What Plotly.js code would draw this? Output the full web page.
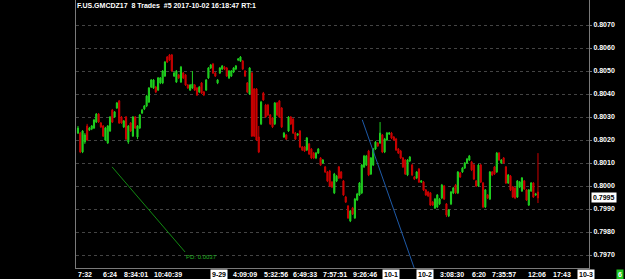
<!DOCTYPE html>
<html><head><meta charset="utf-8">
<script src="https://cdn.plot.ly/plotly-3.0.1.min.js"></script>
<style>html,body{margin:0;padding:0;background:#000;overflow:hidden}#chart{width:625px;height:279px}</style>
</head><body><div id="chart"></div>
<script>
const openP=[
0.80230,0.80230,0.80148,0.80191,0.80261,0.80243,0.80248,0.80252,0.80278,0.80313,
0.80274,0.80261,0.80200,0.80187,0.80239,0.80330,0.80300,0.80339,0.80370,0.80300,
0.80257,0.80300,0.80191,0.80274,0.80217,0.80300,0.80213,0.80252,0.80317,0.80335,
0.80348,0.80365,0.80430,0.80426,0.80430,0.80417,0.80448,0.80448,0.80478,0.80561,
0.80570,0.80570,0.80478,0.80452,0.80483,0.80452,0.80491,0.80483,0.80439,0.80417,
0.80426,0.80439,0.80426,0.80409,0.80448,0.80409,0.80417,0.80470,0.80513,0.80530,
0.80491,0.80448,0.80491,0.80509,0.80517,0.80513,0.80470,0.80478,0.80496,0.80509,
0.80548,0.80543,0.80543,0.80500,0.80448,0.80400,0.80491,0.80422,0.80422,0.80213,
0.80270,0.80404,0.80352,0.80352,0.80309,0.80296,0.80270,0.80361,0.80370,0.80339,
0.80213,0.80222,0.80239,0.80300,0.80291,0.80230,0.80222,0.80239,0.80170,0.80170,
0.80157,0.80183,0.80161,0.80143,0.80122,0.80143,0.80122,0.80100,0.80083,0.80061,
0.80065,0.80017,0.79970,0.80022,0.80083,0.80061,0.80022,0.79952,0.79913,0.79848,
0.79904,0.79861,0.79939,0.79961,0.79970,0.80083,0.80091,0.80152,0.80052,0.80091,
0.80161,0.80187,0.80187,0.80222,0.80148,0.80200,0.80226,0.80230,0.80213,0.80204,
0.80161,0.80152,0.80122,0.80113,0.80048,0.80109,0.80091,0.80039,0.80035,0.80074,
0.80017,0.80017,0.79983,0.79974,0.79970,0.79930,0.79904,0.79909,0.79922,0.79948,
0.80000,0.79922,0.79870,0.79922,0.79970,0.80004,0.79970,0.80057,0.80061,0.80078,
0.80100,0.80113,0.80104,0.80091,0.80022,0.80000,0.80091,0.80013,0.79909,0.79961,
0.79943,0.80061,0.80083,0.80061,0.80143,0.80100,0.80122,0.80083,0.80013,0.80043,
0.79996,0.79991,0.79952,0.79996,0.79978,0.80022,0.79983,0.79917,0.79978,0.80013,
0.79961,0.79974];
const closeP=[
0.80252,0.80148,0.80239,0.80222,0.80200,0.80252,0.80261,0.80287,0.80313,0.80278,
0.80257,0.80217,0.80252,0.80261,0.80300,0.80278,0.80322,0.80361,0.80274,0.80274,
0.80283,0.80204,0.80261,0.80239,0.80300,0.80252,0.80261,0.80309,0.80330,0.80348,
0.80391,0.80426,0.80461,0.80461,0.80409,0.80470,0.80470,0.80500,0.80539,0.80539,
0.80548,0.80500,0.80491,0.80500,0.80470,0.80517,0.80470,0.80439,0.80426,0.80439,
0.80443,0.80417,0.80396,0.80430,0.80404,0.80396,0.80461,0.80513,0.80526,0.80491,
0.80478,0.80461,0.80513,0.80522,0.80509,0.80478,0.80500,0.80500,0.80513,0.80522,
0.80552,0.80561,0.80509,0.80478,0.80409,0.80513,0.80217,0.80217,0.80200,0.80148,
0.80365,0.80374,0.80300,0.80309,0.80270,0.80257,0.80361,0.80309,0.80300,0.80257,
0.80230,0.80204,0.80300,0.80270,0.80230,0.80204,0.80226,0.80170,0.80157,0.80152,
0.80209,0.80139,0.80122,0.80122,0.80143,0.80161,0.80091,0.80113,0.80061,0.80022,
0.80000,0.79996,0.80052,0.80043,0.80035,0.80035,0.79961,0.79930,0.79861,0.79891,
0.79878,0.79943,0.79965,0.80013,0.80091,0.80130,0.80130,0.80048,0.80122,0.80161,
0.80191,0.80174,0.80230,0.80148,0.80204,0.80230,0.80230,0.80209,0.80200,0.80157,
0.80143,0.80122,0.80083,0.80052,0.80113,0.80126,0.80048,0.80030,0.80061,0.80017,
0.80022,0.79983,0.79961,0.79957,0.79917,0.79917,0.79943,0.79961,0.79943,0.80004,
0.79943,0.79874,0.79896,0.79974,0.79991,0.79970,0.80061,0.80039,0.80078,0.80100,
0.80117,0.80130,0.80070,0.80030,0.80000,0.80091,0.80017,0.79909,0.79983,0.79948,
0.80061,0.80048,0.80052,0.80143,0.80113,0.80113,0.80100,0.80013,0.80048,0.79983,
0.79952,0.79948,0.80022,0.80017,0.80035,0.79987,0.79939,0.79983,0.80013,0.79952,
0.79965,0.79948];
const highP=[
0.80261,0.80235,0.80243,0.80230,0.80270,0.80257,0.80265,0.80291,0.80317,0.80317,
0.80278,0.80265,0.80257,0.80265,0.80304,0.80335,0.80326,0.80365,0.80374,0.80304,
0.80287,0.80304,0.80265,0.80278,0.80304,0.80304,0.80265,0.80313,0.80335,0.80352,
0.80396,0.80430,0.80465,0.80465,0.80435,0.80474,0.80474,0.80504,0.80543,0.80565,
0.80574,0.80574,0.80496,0.80504,0.80487,0.80522,0.80496,0.80487,0.80443,0.80443,
0.80500,0.80443,0.80430,0.80435,0.80452,0.80413,0.80465,0.80517,0.80530,0.80535,
0.80496,0.80465,0.80517,0.80526,0.80522,0.80517,0.80504,0.80504,0.80517,0.80526,
0.80556,0.80565,0.80548,0.80504,0.80452,0.80517,0.80496,0.80426,0.80426,0.80261,
0.80370,0.80409,0.80357,0.80357,0.80313,0.80300,0.80365,0.80365,0.80374,0.80343,
0.80235,0.80226,0.80304,0.80304,0.80296,0.80235,0.80230,0.80243,0.80174,0.80174,
0.80213,0.80187,0.80165,0.80148,0.80148,0.80165,0.80126,0.80117,0.80087,0.80065,
0.80070,0.80022,0.80057,0.80048,0.80087,0.80065,0.80026,0.79957,0.79917,0.79896,
0.79909,0.79948,0.79970,0.80017,0.80096,0.80135,0.80135,0.80157,0.80126,0.80165,
0.80196,0.80191,0.80278,0.80226,0.80209,0.80235,0.80235,0.80235,0.80217,0.80209,
0.80165,0.80157,0.80126,0.80117,0.80117,0.80130,0.80096,0.80043,0.80065,0.80078,
0.80026,0.80022,0.79987,0.79978,0.79974,0.79935,0.79948,0.79965,0.79948,0.80009,
0.80004,0.79926,0.79900,0.79978,0.79996,0.80009,0.80065,0.80061,0.80083,0.80104,
0.80122,0.80135,0.80109,0.80096,0.80026,0.80096,0.80096,0.80017,0.79987,0.79965,
0.80065,0.80065,0.80087,0.80148,0.80148,0.80117,0.80126,0.80087,0.80052,0.80048,
0.80000,0.79996,0.80026,0.80022,0.80039,0.80026,0.79987,0.79987,0.80017,0.80017,
0.79970,0.80143];
const lowP=[
0.80226,0.80143,0.80143,0.80183,0.80196,0.80239,0.80243,0.80248,0.80274,0.80274,
0.80252,0.80213,0.80196,0.80183,0.80235,0.80274,0.80296,0.80335,0.80270,0.80270,
0.80252,0.80200,0.80183,0.80235,0.80213,0.80248,0.80204,0.80248,0.80313,0.80330,
0.80343,0.80361,0.80426,0.80422,0.80404,0.80413,0.80443,0.80443,0.80474,0.80535,
0.80543,0.80496,0.80474,0.80448,0.80465,0.80448,0.80465,0.80435,0.80422,0.80413,
0.80422,0.80413,0.80391,0.80404,0.80400,0.80391,0.80413,0.80465,0.80509,0.80487,
0.80474,0.80443,0.80487,0.80504,0.80504,0.80474,0.80465,0.80474,0.80491,0.80504,
0.80543,0.80539,0.80504,0.80474,0.80404,0.80396,0.80213,0.80213,0.80196,0.80143,
0.80265,0.80370,0.80296,0.80304,0.80265,0.80252,0.80265,0.80304,0.80296,0.80252,
0.80209,0.80200,0.80235,0.80265,0.80226,0.80200,0.80217,0.80165,0.80152,0.80148,
0.80152,0.80135,0.80117,0.80117,0.80117,0.80139,0.80087,0.80096,0.80057,0.80017,
0.79996,0.79991,0.79965,0.80017,0.80030,0.80030,0.79957,0.79926,0.79857,0.79843,
0.79874,0.79857,0.79935,0.79957,0.79965,0.80078,0.80087,0.80043,0.80048,0.80087,
0.80157,0.80170,0.80183,0.80143,0.80143,0.80196,0.80222,0.80204,0.80196,0.80152,
0.80139,0.80117,0.80078,0.80048,0.80043,0.80104,0.80043,0.80026,0.80030,0.80013,
0.80013,0.79978,0.79957,0.79952,0.79913,0.79913,0.79900,0.79904,0.79917,0.79943,
0.79939,0.79865,0.79865,0.79917,0.79965,0.79965,0.79965,0.80035,0.80057,0.80074,
0.80096,0.80109,0.80065,0.80026,0.79996,0.79996,0.80013,0.79904,0.79904,0.79943,
0.79939,0.80043,0.80048,0.80057,0.80109,0.80096,0.80096,0.80009,0.80009,0.79978,
0.79948,0.79943,0.79948,0.79991,0.79974,0.79983,0.79935,0.79913,0.79974,0.79948,
0.79957,0.79926];

const xLabelPos=[-0.85,10.05,19.1,32.2,57.7,66.7,80.3,93.1,106.2,119.2,132.7,147.7,157.2,171.3,180.0,195.6,206.5,217.9];
const xLabelText=['7:32','6:24','8:34:01','10:40:39','9-29','4:09:09','5:32:56','6:49:33','7:57:51','9:26:46','10-1','10-2','3:08:30','6:20','7:35:57','12:06','17:43','10-3'];
const xLabelBoxed=[0,0,0,0,1,0,0,0,0,0,1,1,0,0,0,0,0,1];
const yTickVals=[0.7970,0.7980,0.7990,0.8000,0.8010,0.8020,0.8030,0.8040,0.8050,0.8060,0.8070];
const lastPrice=0.7995;
const titleText='F.US.GMCDZ17\u00a0\u00a08 Trades\u00a0\u00a0#5 2017-10-02 16:18:47 RT:1';
const pdLineX=[14.9,46.8], pdLineY=[0.80083,0.79713], pdText='PD: 0.0037';
const blueLineX=[124.2,146.9], blueLineY=[0.80288,0.79644];
const barCountText='6';

const idx=openP.map((_,i)=>i);
const FONT='Liberation Sans';
const GREEN='#1fd01f', RED='#cc0000';

const trace={
  type:'candlestick', x:idx, open:openP, high:highP, low:lowP, close:closeP,
  increasing:{line:{color:GREEN,width:1},fillcolor:GREEN},
  decreasing:{line:{color:RED,width:1},fillcolor:RED},
  whiskerwidth:0, hoverinfo:'skip', showlegend:false
};

const annotations=[];
annotations.push({xref:'paper',yref:'paper',x:0,y:1,xanchor:'left',yanchor:'top',yshift:-1,
  text:titleText,showarrow:false,font:{family:FONT,size:7,color:'#fff',weight:'bold'},borderpad:0});
xLabelText.forEach((t,i)=>{
  const boxed=xLabelBoxed[i]===1;
  annotations.push({xref:'x',yref:'paper',x:xLabelPos[i],y:0,xanchor:'left',yanchor:'top',yshift:-1,
    text:t,showarrow:false,font:{family:FONT,size:7,color:boxed?'#000':'#fff',weight:'bold'},
    bgcolor:boxed?'#fff':'rgba(0,0,0,0)',borderpad:1});
});
annotations.push({xref:'paper',yref:'paper',x:1.0526,y:0,xanchor:'left',yanchor:'top',yshift:-1,
  text:barCountText,showarrow:false,font:{family:FONT,size:7,color:'#fff',weight:'bold'},bgcolor:'#22c422',borderpad:1});
annotations.push({xref:'paper',yref:'y',x:1,y:lastPrice,xanchor:'left',yanchor:'middle',xshift:2,
  text:lastPrice.toFixed(4),showarrow:false,font:{family:FONT,size:7,color:'#000',weight:'bold'},bgcolor:'#fff',borderpad:1});
annotations.push({xref:'x',yref:'y',x:pdLineX[1],y:pdLineY[1],xanchor:'left',yanchor:'top',yshift:-1,
  text:pdText,showarrow:false,font:{family:FONT,size:6,color:'#22b022'},borderpad:0});

const shapes=[
  {type:'line',xref:'x',yref:'y',x0:pdLineX[0],y0:pdLineY[0],x1:pdLineX[1],y1:pdLineY[1],line:{color:'#128a12',width:1}},
  {type:'line',xref:'x',yref:'y',x0:blueLineX[0],y0:blueLineY[0],x1:blueLineX[1],y1:blueLineY[1],line:{color:'#1e5aa8',width:1}}
];

const layout={
  width:625,height:279,
  margin:{l:76,r:36,t:0,b:11,pad:0},
  paper_bgcolor:'#000',plot_bgcolor:'#000',
  showlegend:false,
  xaxis:{range:[-0.87,223.3],showgrid:false,zeroline:false,showticklabels:false,ticks:'',
    showline:true,linecolor:'#7a7a7a',linewidth:1,rangeslider:{visible:false},fixedrange:true},
  yaxis:{side:'right',range:[0.796435,0.808087],tickmode:'array',tickvals:yTickVals,
    ticktext:yTickVals.map(v=>v.toFixed(4)),
    showgrid:true,gridcolor:'#444444',griddash:'dot',gridwidth:1,zeroline:false,
    showline:true,mirror:true,linecolor:'#7a7a7a',linewidth:1,
    ticks:'outside',ticklen:2,tickcolor:'#7a7a7a',
    tickfont:{family:FONT,size:7,color:'#fff',weight:'bold'},fixedrange:true},
  annotations:annotations,shapes:shapes
};
Plotly.newPlot('chart',[trace],layout,{staticPlot:true,displayModeBar:false});
</script></body></html>
